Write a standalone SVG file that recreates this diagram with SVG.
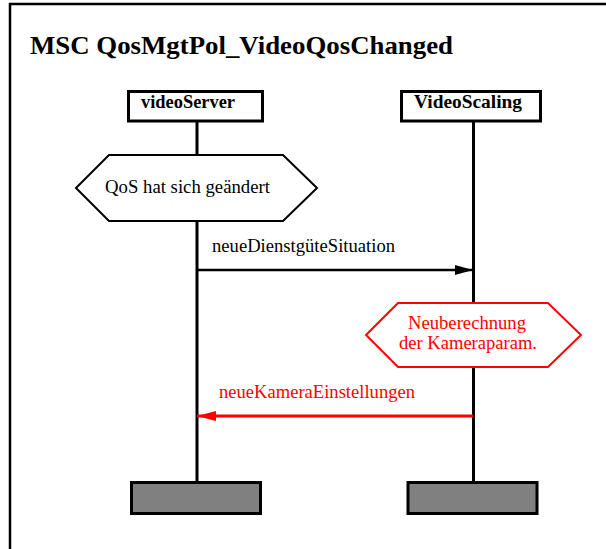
<svg xmlns="http://www.w3.org/2000/svg" width="606" height="549" viewBox="0 0 606 549">
  <defs>
    <marker id="arrowBlack" viewBox="0 0 18 10" refX="18" refY="5" markerWidth="18" markerHeight="10" markerUnits="userSpaceOnUse" orient="auto">
      <path d="M0,0 L18,5 L0,10 Z" fill="#000"/>
    </marker>
    <marker id="arrowRed" viewBox="0 0 19 10" refX="19" refY="5" markerWidth="19" markerHeight="10" markerUnits="userSpaceOnUse" orient="auto">
      <path d="M0,0 L19,5 L0,10 Z" fill="#f00"/>
    </marker>
  </defs>
  <style>
    text { font-family: "Liberation Serif", "Times New Roman", serif; }
    .title { font-size: 26px; font-weight: bold; fill: #000; }
    .inst { font-size: 18px; font-weight: bold; fill: #000; }
    .lbl { font-size: 18px; fill: #000; }
    .red { fill: #f00; }
    .head { fill: #fff; stroke: #000; stroke-width: 3; }
    .end { fill: #808080; stroke: #000; stroke-width: 3; }
    .life { stroke: #000; stroke-width: 3; fill: none; }
    .cond { fill: #fff; stroke: #000; stroke-width: 2; }
    .cond.action { stroke: #f00; }
    .msg { stroke: #000; stroke-width: 2.5; fill: none; }
    .msg.reply { stroke: #f00; stroke-width: 3; }
  </style>

  <rect width="606" height="549" fill="#fff"/>

  <!-- MSC frame (open to the right and bottom) -->
  <path d="M10,549 V4 H606" fill="none" stroke="#000" stroke-width="2.5"/>
  <text class="title" x="30" y="54" textLength="423" lengthAdjust="spacingAndGlyphs">MSC QosMgtPol_VideoQosChanged</text>

  <!-- instance videoServer -->
  <g id="videoServer">
    <line class="life" x1="197" y1="122" x2="197" y2="482"/>
    <rect class="head" x="128.5" y="91.5" width="134" height="29.5"/>
    <text class="inst" x="141" y="108" textLength="94" lengthAdjust="spacingAndGlyphs">videoServer</text>
    <rect class="end" x="131.5" y="482.5" width="129" height="31"/>
  </g>

  <!-- instance VideoScaling -->
  <g id="VideoScaling">
    <line class="life" x1="473.5" y1="121" x2="473.5" y2="482"/>
    <rect class="head" x="401.5" y="91.5" width="139" height="29.5"/>
    <text class="inst" x="414" y="108" textLength="108" lengthAdjust="spacingAndGlyphs">VideoScaling</text>
    <rect class="end" x="408" y="482.5" width="129" height="31"/>
  </g>

  <!-- condition on videoServer -->
  <g id="condQosChanged">
    <polygon class="cond" points="76,188 109,155 283,155 317,188 283,221 109,221"/>
    <text class="lbl" x="105" y="193" textLength="165" lengthAdjust="spacingAndGlyphs">QoS hat sich geändert</text>
  </g>

  <!-- action on VideoScaling -->
  <g id="actionRecalc">
    <polygon class="cond action" points="366,335 398,303 548,303 581,335 548,367 398,367"/>
    <text class="lbl red" x="467" y="329" text-anchor="middle" textLength="118" lengthAdjust="spacingAndGlyphs">Neuberechnung</text>
    <text class="lbl red" x="468" y="349" text-anchor="middle" textLength="138" lengthAdjust="spacingAndGlyphs">der Kameraparam.</text>
  </g>

  <!-- messages -->
  <g id="messages">
    <line class="msg" x1="197" y1="270" x2="473" y2="270" marker-end="url(#arrowBlack)"/>
    <text class="lbl" x="212" y="252" textLength="183" lengthAdjust="spacingAndGlyphs">neueDienstgüteSituation</text>
    <line class="msg reply" x1="473" y1="416" x2="197" y2="416" marker-end="url(#arrowRed)"/>
    <text class="lbl red" x="219" y="398" textLength="196" lengthAdjust="spacingAndGlyphs">neueKameraEinstellungen</text>
  </g>
</svg>
